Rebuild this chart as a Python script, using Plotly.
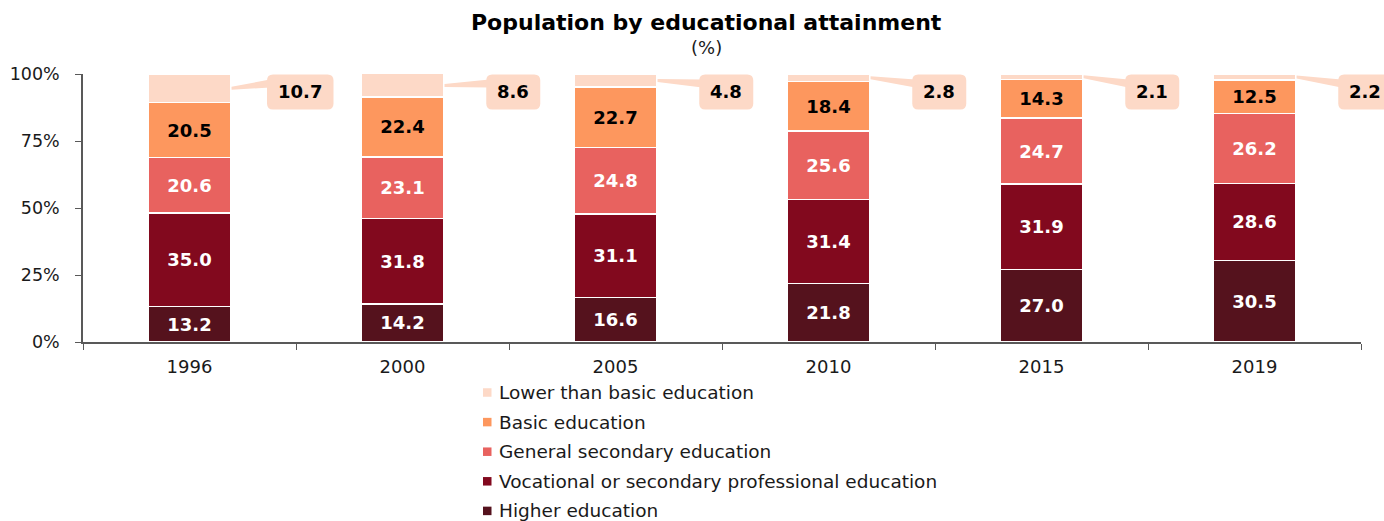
import plotly.graph_objects as go

# Data: share of population by educational attainment (%)
years = ["1996", "2000", "2005", "2010", "2015", "2019"]
higher = [13.2, 14.2, 16.6, 21.8, 27.0, 30.5]
vocational = [35.0, 31.8, 31.1, 31.4, 31.9, 28.6]
general_secondary = [20.6, 23.1, 24.8, 25.6, 24.7, 26.2]
basic = [20.5, 22.4, 22.7, 18.4, 14.3, 12.5]
lower_than_basic = [10.7, 8.6, 4.8, 2.8, 2.1, 2.2]

y_ticks = [0, 25, 50, 75, 100]

# stacked bottom to top
series = [
    ("Higher education", higher, "#55121d", "white"),
    ("Vocational or secondary professional education", vocational, "#82091e", "white"),
    ("General secondary education", general_secondary, "#e8625f", "white"),
    ("Basic education", basic, "#fd975e", "black"),
    ("Lower than basic education", lower_than_basic, "#fdd9c7", "black"),
]

FONT = "DejaVu Sans"
WIDTH, HEIGHT = 1384, 521
M_L, M_R, M_T, M_B = 83, 23, 74, 179
PW = WIDTH - M_L - M_R
PH = HEIGHT - M_T - M_B
BAR_W = 0.39
N = len(years)

fig = go.Figure()
for name, vals, color, tcolor in series:
    show_text = name != "Lower than basic education"
    fig.add_trace(go.Bar(
        x=years, y=vals, name=name, showlegend=False,
        width=BAR_W,
        marker=dict(color=color, line=dict(color="white", width=1.5)),
        text=[f"{v:.1f}" for v in vals] if show_text else None,
        textposition="inside" if show_text else "none",
        insidetextanchor="middle",
        textangle=0,
        textfont=dict(family=FONT, size=18, color=tcolor, weight="bold"),
        hoverinfo="name+y",
    ))


def px_x(px):
    return (px - M_L) / PW


def px_y(py):
    return (M_T + PH - py) / PH


def to_paper(idx, val, dx=0.0, dy=0.0):
    """Map a category index / percentage value (plus pixel offsets) to paper coords."""
    return (idx + 0.5) / N + dx / PW, val / 100.0 + dy / PH


shapes = []
annotations = []

# Callouts for the thin top segment
BOX_H = 35
R = 6
for i, v in enumerate(lower_than_basic):
    label = f"{v:.1f}"
    ndig = sum(c.isdigit() for c in label)
    bw = 22 + 12.5 * ndig + 7
    cx, cy = to_paper(i + 0.52, 93.3)
    x0, x1 = cx - bw / 2 / PW, cx + bw / 2 / PW
    y0, y1 = cy - BOX_H / 2 / PH, cy + BOX_H / 2 / PH
    rx, ry = R / PW, R / PH
    box = (f"M{x0 + rx},{y1} L{x1 - rx},{y1} Q{x1},{y1} {x1},{y1 - ry} "
           f"L{x1},{y0 + ry} Q{x1},{y0} {x1 - rx},{y0} L{x0 + rx},{y0} "
           f"Q{x0},{y0} {x0},{y0 + ry} L{x0},{y1 - ry} Q{x0},{y1} {x0 + rx},{y1} Z")
    # pointer wedge from the box to the bar edge, at the segment's middle
    seg_mid = 100 - v / 2
    tx, ty = to_paper(i + BAR_W / 2, seg_mid, dx=0.5)
    wedge = (f"M{x0 + 3 / PW},{y1 - 5 / PH} L{tx},{ty + 1.5 / PH} "
             f"L{tx},{ty - 1.5 / PH} L{x0 + 3 / PW},{y1 - 13 / PH} Z")
    for p in (wedge, box):
        shapes.append(dict(type="path", path=p, xref="paper", yref="paper",
                           fillcolor="#fdd9c7", line=dict(width=0), layer="above"))
    annotations.append(dict(x=cx, y=cy, xref="paper", yref="paper", text=label,
                            showarrow=False, xanchor="center", yanchor="middle",
                            font=dict(family=FONT, size=18, color="black", weight="bold")))

# Legend (top to bottom: reverse of stacking order)
LEG_X, LEG_Y0, LEG_DY, SQ = 483, 392.5, 29.6, 8.5
for k, (name, vals, color, _) in enumerate(reversed(series)):
    yc = LEG_Y0 + k * LEG_DY
    shapes.append(dict(type="rect", xref="paper", yref="paper",
                       x0=px_x(LEG_X), x1=px_x(LEG_X + SQ),
                       y0=px_y(yc + SQ / 2), y1=px_y(yc - SQ / 2),
                       fillcolor=color, line=dict(width=0)))
    annotations.append(dict(x=px_x(LEG_X + 14), y=px_y(yc), xref="paper", yref="paper",
                            text=name, showarrow=False, xanchor="left", yanchor="middle",
                            font=dict(family=FONT, size=18.5, color="#1a1a1a")))

# Titles
annotations.append(dict(x=px_x(706), y=px_y(22), xref="paper", yref="paper",
                        text="<b>Population by educational attainment</b>", showarrow=False,
                        xanchor="center", yanchor="middle",
                        font=dict(family=FONT, size=22, color="black")))
annotations.append(dict(x=px_x(706), y=px_y(47), xref="paper", yref="paper",
                        text="(%)", showarrow=False, xanchor="center", yanchor="middle",
                        font=dict(family=FONT, size=18, color="#1a1a1a")))

fig.update_layout(
    width=WIDTH, height=HEIGHT,
    margin=dict(l=M_L, r=M_R, t=M_T, b=M_B, autoexpand=False),
    barmode="stack",
    plot_bgcolor="white", paper_bgcolor="white",
    font=dict(family=FONT, size=18, color="#1a1a1a"),
    shapes=shapes,
    annotations=annotations,
    showlegend=False,
    xaxis=dict(type="category", range=[-0.5, N - 0.5], showline=True, linecolor="#595959",
               linewidth=1.5, ticks="outside", ticklen=6, tickcolor="#595959",
               tickson="boundaries", ticklabelstandoff=8, showgrid=False, zeroline=False,
               tickfont=dict(family=FONT, size=18, color="#1a1a1a")),
    yaxis=dict(range=[0, 100], tickvals=y_ticks, ticktext=[f"{t}%" for t in y_ticks],
               showline=True, linecolor="#595959", linewidth=1.5, ticks="outside", ticklen=6,
               tickcolor="#595959", ticklabelstandoff=12, showgrid=False, zeroline=False,
               tickfont=dict(family=FONT, size=17.5, color="#1a1a1a")),
)

fig.write_html("out.html")
